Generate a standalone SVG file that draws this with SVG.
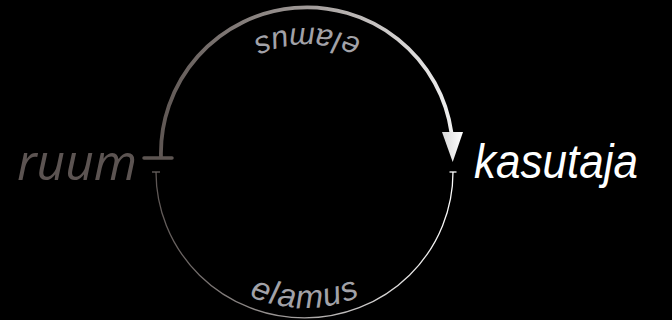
<svg xmlns="http://www.w3.org/2000/svg" width="672" height="320" viewBox="0 0 672 320">
  <defs>
    <linearGradient id="gTop" gradientUnits="userSpaceOnUse" x1="160" y1="0" x2="460" y2="0">
      <stop offset="0" stop-color="#5f5754"/>
      <stop offset="0.5" stop-color="#a29c9a"/>
      <stop offset="1" stop-color="#f4f4f4"/>
    </linearGradient>
    <linearGradient id="gBot" gradientUnits="userSpaceOnUse" x1="152" y1="0" x2="458" y2="0">
      <stop offset="0" stop-color="#5c5553"/>
      <stop offset="0.5" stop-color="#a8a4a3"/>
      <stop offset="1" stop-color="#ffffff"/>
    </linearGradient>
    <linearGradient id="gArrow" gradientUnits="userSpaceOnUse" x1="442" y1="0" x2="463" y2="0">
      <stop offset="0" stop-color="#d8d8d8"/>
      <stop offset="1" stop-color="#ffffff"/>
    </linearGradient>
    <path id="topLabelPath" d="M 438 159 A 131 131 0 0 0 176 159"/>
    <path id="botLabelPath" d="M 168.5 172 A 136 136 0 0 0 440.5 172"/>
  </defs>
  <style>
    .node { font-family: "Liberation Sans", Arial, sans-serif; font-style: italic; }
    .lbl { font-family: "Liberation Sans", Arial, sans-serif; font-style: italic; fill: #a2a2a8; }
  </style>
  <rect x="0" y="0" width="672" height="320" fill="#000"/>

  <g id="connectors">
    <g id="edge-top">
      <path d="M 161 158 A 146 146 0 0 1 451.5 133" fill="none" stroke="url(#gTop)" stroke-width="3.8"/>
      <line x1="144" y1="158" x2="172" y2="158" stroke="#5d5552" stroke-width="3.5" stroke-linecap="round"/>
      <polygon points="442,132 463,132 452.7,162" fill="url(#gArrow)"/>
      <text class="lbl" font-size="31" text-anchor="middle" textLength="112" lengthAdjust="spacing"><textPath href="#topLabelPath" startOffset="50%">elamus</textPath></text>
    </g>
    <g id="edge-bottom">
      <path d="M 156 172 A 148.5 146 0 0 0 453 172" fill="none" stroke="url(#gBot)" stroke-width="1.3"/>
      <line x1="152" y1="172" x2="160" y2="172" stroke="#6a6360" stroke-width="1.3"/>
      <line x1="449.5" y1="172" x2="456.5" y2="172" stroke="#ffffff" stroke-width="1.3"/>
      <text class="lbl" font-size="33" text-anchor="middle" textLength="114" lengthAdjust="spacing"><textPath href="#botLabelPath" startOffset="50%">elamus</textPath></text>
    </g>
  </g>

  <g id="node-ruum">
    <text x="17" y="180" font-size="50" font-style="italic" fill="#5c5452" font-family="'Open Sans', sans-serif" textLength="120" lengthAdjust="spacingAndGlyphs">ruum</text>
  </g>
  <g id="node-kasutaja">
    <text class="node" x="474" y="178" font-size="49" fill="#ffffff" textLength="164" lengthAdjust="spacingAndGlyphs">kasutaja</text>
  </g>
</svg>
